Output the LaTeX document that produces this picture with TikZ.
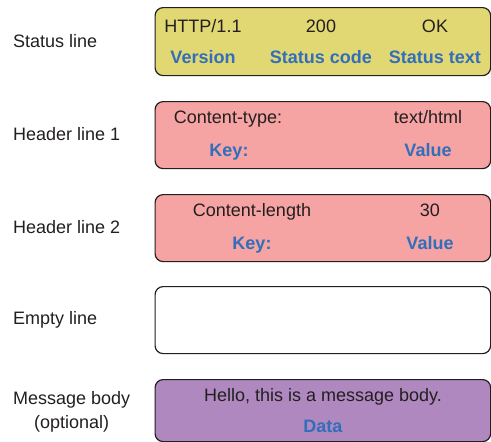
\documentclass[tikz,border=0pt]{standalone}
\usepackage{fontspec}
\setmainfont{Liberation Sans}
\definecolor{statusfill}{RGB}{225,215,115}
\definecolor{headerfill}{RGB}{245,163,163}
\definecolor{bodyfill}{RGB}{174,136,190}
\definecolor{fieldblue}{RGB}{50,110,185}
\definecolor{ink}{RGB}{35,31,32}
\begin{document}
\begin{tikzpicture}[x=1pt,y=-1pt,
  linebox/.style={draw=ink, line width=1.2pt, rounded corners=8pt, inner sep=0pt,
    minimum width=335.5pt, anchor=north west},
  val/.style={anchor=base, inner sep=0pt, text=ink, font=\fontsize{18}{22}\selectfont},
  fld/.style={anchor=base, inner sep=0pt, text=fieldblue, font=\fontsize{18}{22}\selectfont\bfseries},
  side/.style={anchor=west, inner sep=0pt, text=ink, font=\fontsize{18}{24}\selectfont, align=center}]
\useasboundingbox (0,0) rectangle (491,442);

% the five lines of the response
\node[linebox, fill=statusfill, minimum height=68pt] (status) at (154.5,7) {};
\node[linebox, fill=headerfill, minimum height=67pt] (hdr1) at (154.5,101) {};
\node[linebox, fill=headerfill, minimum height=67pt] (hdr2) at (154.5,194) {};
\node[linebox, fill=white, minimum height=67pt] (empty) at (154.5,286) {};
\node[linebox, fill=bodyfill, minimum height=62pt] (body) at (154.5,379) {};

% status line contents
\node[val] (ver) at (203,32) {HTTP/1.1};
\node[val] (code) at (321,32) {200};
\node[val] (text) at (435,32) {OK};
\node[fld] (verl) at (203,63) {Version};
\node[fld] (codel) at (321,63) {Status code};
\node[fld] (textl) at (435,63) {Status text};

% first header
\node[val] (k1) at (228,123) {Content-type:};
\node[val] (v1) at (428,123) {text/html};
\node[fld] (k1l) at (229,156) {Key:};
\node[fld] (v1l) at (428,156) {Value};

% second header
\node[val] (k2) at (252,216) {Content-length};
\node[val] (v2) at (430,216) {30};
\node[fld] (k2l) at (252,249) {Key:};
\node[fld] (v2l) at (430,249) {Value};

% body
\node[val] (msg) at (323,401) {Hello, this is a message body.};
\node[fld] (data) at (323,432) {Data};

% labels on the left
\node[side] (lstatus) at (13,41) {Status line};
\node[side] (lhdr1) at (13,134.5) {Header line 1};
\node[side] (lhdr2) at (13,227.5) {Header line 2};
\node[side] (lempty) at (13,319.5) {Empty line};
\node[side] (lbody) at (13,412) {Message body\\(optional)};
\end{tikzpicture}
\end{document}
